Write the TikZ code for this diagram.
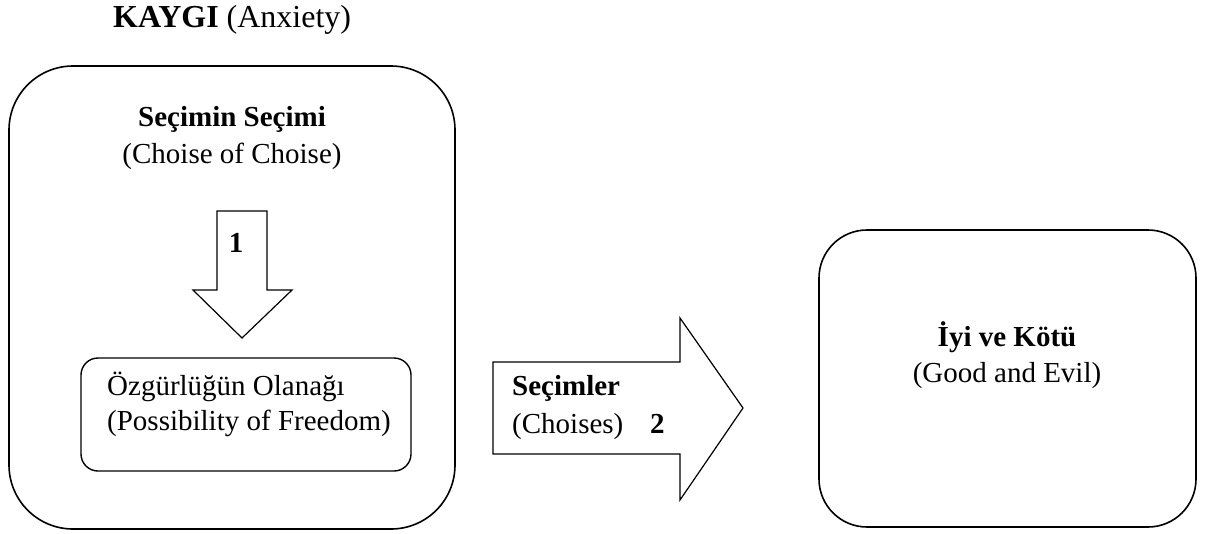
\documentclass[tikz,border=0pt]{standalone}
\usepackage{fontspec}
\setmainfont{Liberation Serif}
\usetikzlibrary{positioning}

\tikzset{
  roundbox/.style={draw, line width=1.6pt, rounded corners=#1, inner sep=0pt},
  blockarrow/.style={draw, line width=1.2pt, line join=miter},
  txt/.style={font=\fontsize{29}{37}\selectfont, inner sep=0pt},
}

\begin{document}
\begin{tikzpicture}[x=1pt,y=-1pt]
	\useasboundingbox (0,0) rectangle (1205,533);

	\node[txt, font=\fontsize{32}{38}\selectfont, anchor=base west] (kaygi) at (113,27) {\textbf{KAYGI} (Anxiety)};

	% boxes
	\node[roundbox=64, minimum width=446pt, minimum height=463pt] (secimbox) at (232,297.5) {};
	\node[roundbox=17, line width=1.4pt, minimum width=330pt, minimum height=113pt] (olanakbox) at (246,414.5) {};
	\node[roundbox=48, minimum width=377pt, minimum height=297pt] (iyibox) at (1007.5,378.5) {};

	% block arrows
	\draw[blockarrow] (217,211) -- (267,211) -- (267,290) -- (292,290) -- (242,338) -- (193,290) -- (217,290) -- cycle;
	\draw[blockarrow] (493,362) -- (680,362) -- (680,318) -- (743,408) -- (680,500) -- (680,454) -- (493,454) -- cycle;

	% labels
	\node[txt, anchor=base] (secim) at (232,126) {\textbf{Seçimin Seçimi}};
	\node[txt, anchor=base] (choise) at (232,163) {(Choise of Choise)};
	\node[txt, anchor=base] (bir) at (236,252) {\textbf{1}};
	\node[txt, anchor=base west] (olanak) at (107,395) {Özgürlüğün Olanağı};
	\node[txt, anchor=base west] (freedom) at (107,430) {(Possibility of Freedom)};
	\node[txt, anchor=base west] (secimler) at (512,395) {\textbf{Seçimler}};
	\node[txt, anchor=base west] (choises) at (512,433) {(Choises)};
	\node[txt, anchor=base west] (iki) at (650,433) {\textbf{2}};
	\node[txt, anchor=base] (iyi) at (1007,346) {\textbf{İyi ve Kötü}};
	\node[txt, anchor=base] (good) at (1007,382) {(Good and Evil)};
\end{tikzpicture}
\end{document}
